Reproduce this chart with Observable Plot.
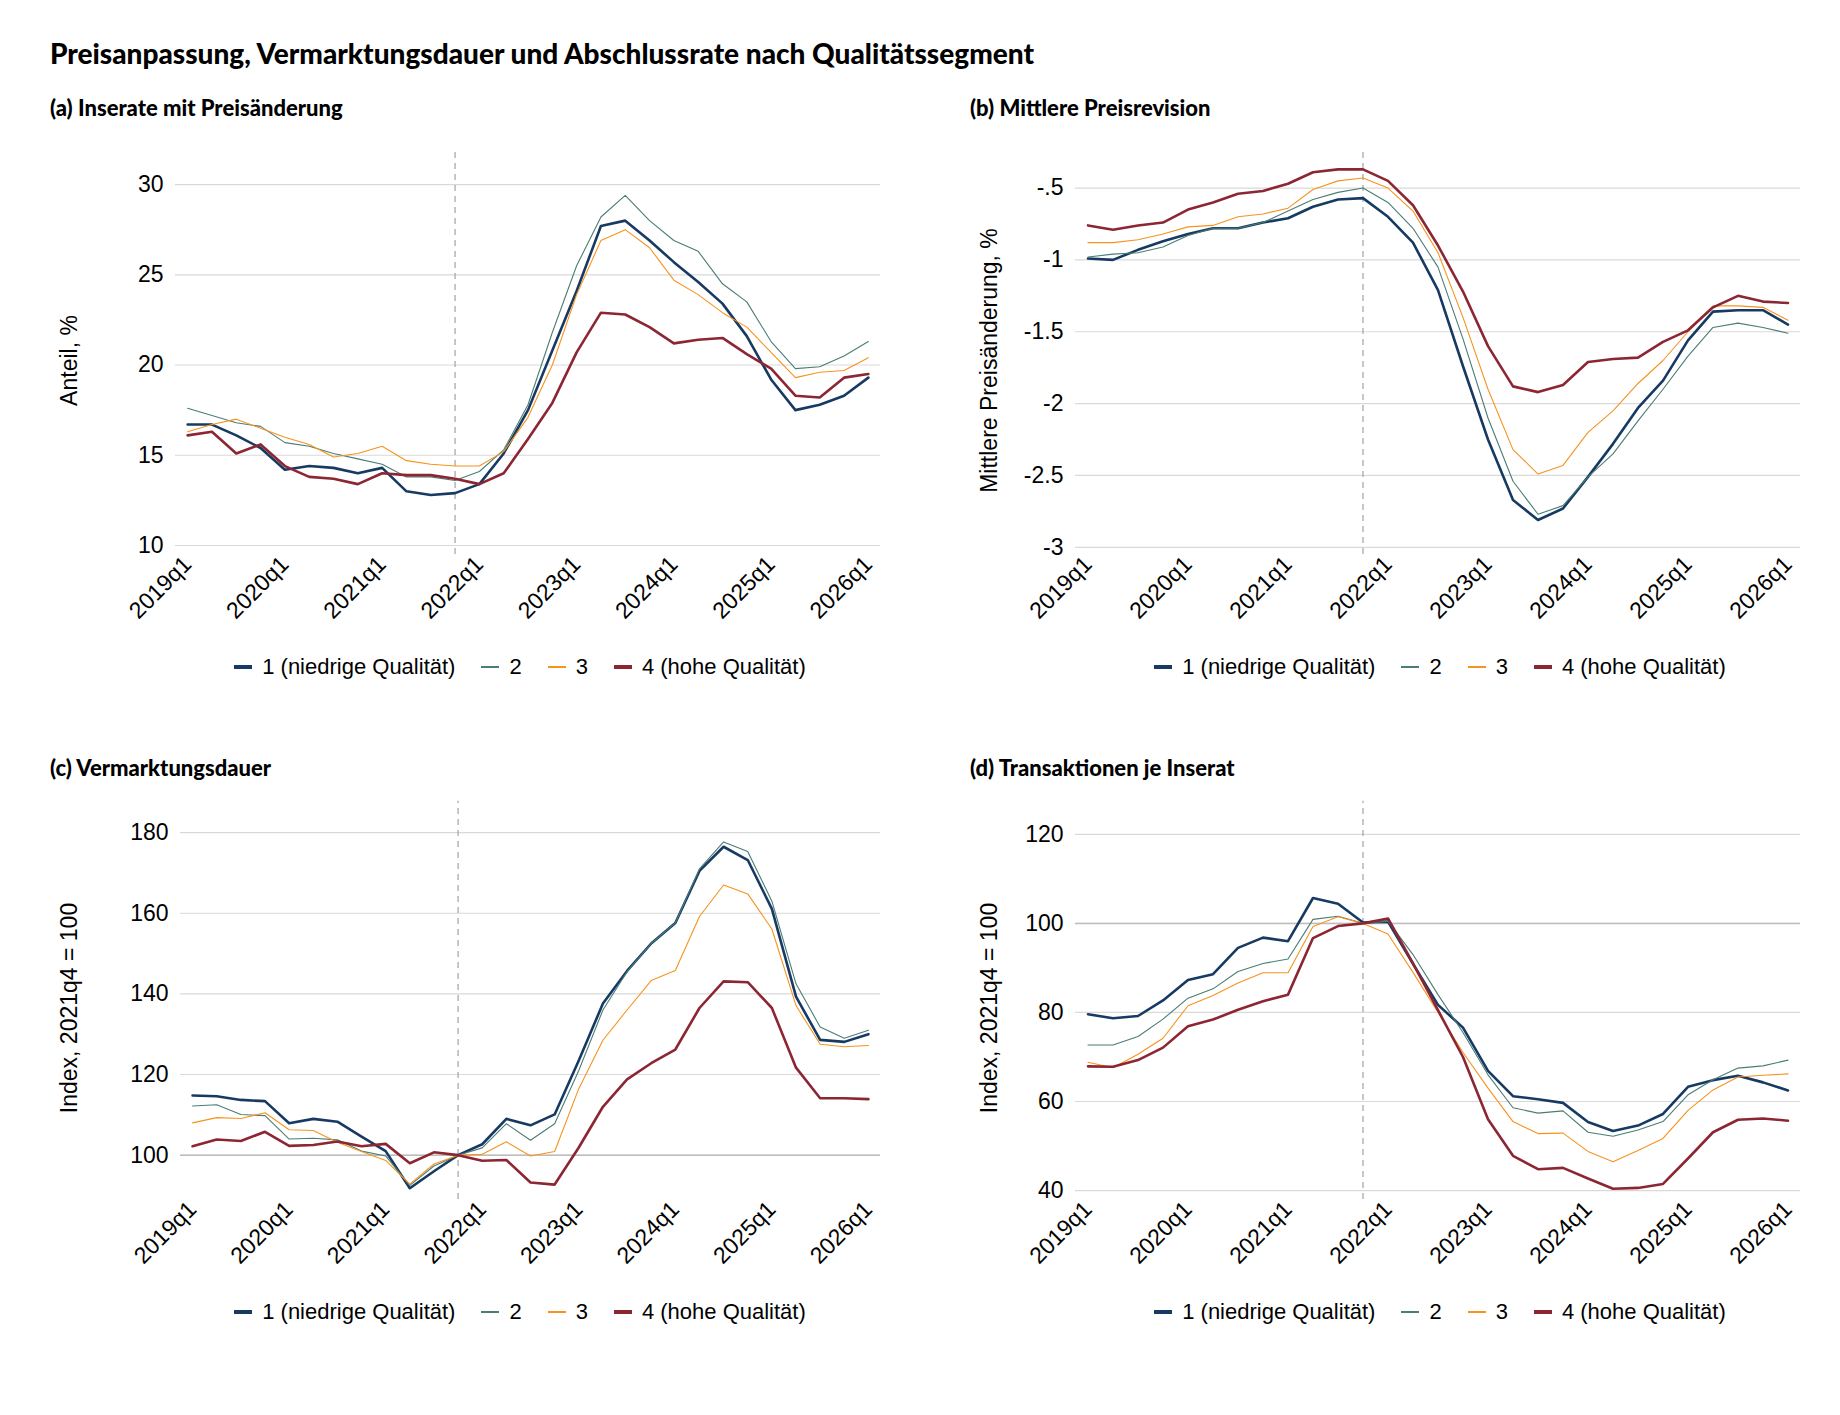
<!DOCTYPE html>
<html><head><meta charset="utf-8">
<script src="https://cdn.jsdelivr.net/npm/d3@7"></script>
<script src="https://cdn.jsdelivr.net/npm/@observablehq/plot@0.6"></script>
<style>
body{margin:0;background:#fff;font-family:"Liberation Sans",Arial,sans-serif;}
#wrap{width:1840px;}
h1{font-family:"Lato";font-weight:900;font-size:28px;margin:0;padding:36px 0 0 50px;height:50px}
.grid{display:grid;grid-template-columns:920px 920px;}
.cell{position:relative;height:660px}
.ptitle{font-family:"Lato";font-weight:900;font-size:22px;padding-left:50px;height:40px;padding-top:8px}
.legend{display:flex;justify-content:center;gap:26px;font-size:22px;margin-top:0px;padding-left:120px}
.legend span{display:flex;align-items:center;gap:10px}
.sw{display:inline-block;width:18px;}
</style></head><body>
<div id="wrap">
<h1>Preisanpassung, Vermarktungsdauer und Abschlussrate nach Qualitätssegment</h1>
<div class="grid" id="grid"></div>
</div>
<script>
const quarterLabels = ["2019q1","2020q1","2021q1","2022q1","2023q1","2024q1","2025q1","2026q1"];
const quarters = [];
for (let y=2019;y<=2026;y++) for (let q=1;q<=4;q++) quarters.push(y+"q"+q);
const periods = quarters.slice(0,29);
const seriesNames = ["1 (niedrige Qualität)","2","3","4 (hohe Qualität)"];

const a1=[16.7,16.7,16.1,15.4,14.2,14.4,14.3,14.0,14.3,13.0,12.8,12.9,13.4,15.1,17.5,20.8,24.1,27.7,28.0,26.9,25.7,24.6,23.4,21.6,19.2,17.5,17.8,18.3,19.3];
const a2=[17.6,17.2,16.8,16.6,15.7,15.5,15.1,14.8,14.5,13.8,13.8,13.6,14.1,15.3,17.8,21.8,25.5,28.2,29.4,28.0,26.9,26.3,24.5,23.5,21.3,19.8,19.9,20.5,21.3];
const a3=[16.3,16.7,17.0,16.5,16.0,15.6,14.9,15.1,15.5,14.7,14.5,14.4,14.4,15.2,17.1,20.0,23.9,26.9,27.5,26.5,24.7,23.9,22.9,22.1,20.7,19.3,19.6,19.7,20.4];
const a4=[16.1,16.3,15.1,15.6,14.4,13.8,13.7,13.4,14.0,13.9,13.9,13.7,13.4,14.0,15.9,17.9,20.7,22.9,22.8,22.1,21.2,21.4,21.5,20.6,19.8,18.3,18.2,19.3,19.5];

const b1=[-0.99,-1.0,-0.93,-0.87,-0.82,-0.78,-0.78,-0.74,-0.71,-0.63,-0.58,-0.57,-0.70,-0.88,-1.21,-1.74,-2.25,-2.67,-2.81,-2.73,-2.51,-2.28,-2.03,-1.84,-1.56,-1.36,-1.35,-1.35,-1.45];
const b2=[-0.98,-0.96,-0.95,-0.91,-0.83,-0.78,-0.78,-0.74,-0.66,-0.58,-0.53,-0.50,-0.60,-0.78,-1.05,-1.55,-2.10,-2.54,-2.77,-2.71,-2.51,-2.35,-2.12,-1.90,-1.67,-1.47,-1.44,-1.47,-1.51];
const b3=[-0.88,-0.88,-0.86,-0.82,-0.77,-0.76,-0.70,-0.68,-0.64,-0.51,-0.45,-0.43,-0.50,-0.66,-0.95,-1.40,-1.90,-2.32,-2.49,-2.43,-2.20,-2.05,-1.86,-1.70,-1.50,-1.32,-1.32,-1.33,-1.42];
const b4=[-0.76,-0.79,-0.76,-0.74,-0.65,-0.60,-0.54,-0.52,-0.47,-0.39,-0.37,-0.37,-0.45,-0.62,-0.90,-1.22,-1.60,-1.88,-1.92,-1.87,-1.71,-1.69,-1.68,-1.57,-1.49,-1.33,-1.25,-1.29,-1.30];

const c1=[114.8,114.6,113.7,113.4,107.9,109.0,108.3,104.6,101.0,91.8,96.0,100,102.7,109.0,107.4,110.1,123.5,137.6,145.7,152.5,157.6,170.5,176.5,173.2,161.1,139.3,128.6,128.1,130.0];
const c2=[112.2,112.5,110.1,109.8,104.0,104.2,103.8,101.0,99.8,92.5,97.3,100,101.8,107.8,103.7,107.8,121,136,145.5,152.5,157.6,171,177.7,175.3,163,142.5,131.8,129,131];
const c3=[108,109.3,109.1,110.5,106.3,106.1,103.2,100.9,98.7,92.8,97.8,100,100.2,103.3,99.8,100.9,116.5,128.5,136.0,143.3,145.8,159.2,167.0,164.8,156.1,137.1,127.5,126.9,127.2];
const c4=[102.2,103.9,103.5,105.8,102.3,102.5,103.4,102.2,102.8,98.0,100.7,100,98.6,98.8,93.2,92.7,101.9,112.0,118.8,122.8,126.2,136.5,143.1,142.9,136.5,121.7,114.1,114.1,113.9];

const d1=[79.6,78.7,79.2,82.7,87.3,88.6,94.5,96.8,96.0,105.7,104.4,100.2,100.4,90.9,81.7,76.6,66.9,61.2,60.5,59.7,55.4,53.4,54.6,57.2,63.3,64.8,65.8,64.3,62.5];
const d2=[72.7,72.7,74.6,78.5,83.2,85.3,89.2,91,92,100.9,101.6,100,100.5,93,84,75.5,66,58.6,57.4,57.9,53.1,52.2,53.6,55.5,61.5,64.9,67.5,68,69.3];
const d3=[68.8,67.6,70.6,74.2,81.5,83.8,86.6,88.9,88.9,99.3,101.5,100,97.6,89,80,71,63,55.5,52.8,52.9,48.8,46.5,49.0,51.7,58,62.6,65.5,65.9,66.2];
const d4=[67.9,67.8,69.3,72.1,76.9,78.4,80.6,82.5,84.0,96.7,99.4,100,101.1,91,80.5,70,56,47.8,44.8,45.1,42.7,40.4,40.6,41.5,47.2,53.1,55.9,56.2,55.7];

const colors=["#173a63","#4a7d76","#f7931e","#8c2633"];
const widths=[2.6,1.1,1.1,2.6];

const panels=[
 {title:"(a) Inserate mit Preisänderung",ylabel:"Anteil, %",s:[a1,a2,a3,a4],dom:[9.5,31],ticks:[10,15,20,25,30],fmt:d=>String(d),ml:175,base:null},
 {title:"(b) Mittlere Preisrevision",ylabel:"Mittlere Preisänderung, %",s:[b1,b2,b3,b4],dom:[-3.05,-0.35],ticks:[-3,-2.5,-2,-1.5,-1,-0.5],fmt:d=>String(d).replace("0.","."),ml:155,base:null},
 {title:"(c) Vermarktungsdauer",ylabel:"Index, 2021q4 = 100",s:[c1,c2,c3,c4],dom:[89,184],ticks:[100,120,140,160,180],fmt:d=>String(d),ml:180,base:100},
 {title:"(d) Transaktionen je Inserat",ylabel:"Index, 2021q4 = 100",s:[d1,d2,d3,d4],dom:[38,124],ticks:[40,60,80,100,120],fmt:d=>String(d),ml:155,base:100}
];
const tickIdx=quarterLabels.map(l=>periods.indexOf(l));
const grid=document.getElementById("grid");
panels.forEach((p,pi)=>{
  const cell=document.createElement("div");cell.className="cell";
  const t=document.createElement("div");t.className="ptitle";t.textContent=p.title;cell.appendChild(t);
  const rows=[];
  p.s.forEach((arr,si)=>arr.forEach((v,i)=>rows.push({i,v,s:si})));
  const ttop = pi<2 ? 32 : 22;
  const chart=Plot.plot({
    width:900,height: pi<2?520:505,marginLeft:p.ml,marginRight:20,marginTop:ttop,marginBottom:100,
    style:{fontFamily:"Liberation Sans, Arial, sans-serif",fontSize:"23px",color:"#000",background:"#fff"},
    x:{domain:[-0.5,28.5],ticks:tickIdx,tickFormat:i=>periods[i],tickRotate:-45,tickSize:0,label:null,tickPadding:6},
    y:{domain:p.dom,ticks:p.ticks,tickFormat:p.fmt,tickSize:0,label:p.ylabel,labelAnchor:"center",labelArrow:"none",labelOffset:p.ml-60,tickPadding:12},
    marks:[
      Plot.gridY(p.ticks,{stroke:"#d9d9d9",strokeOpacity:1,strokeWidth:1.2}),
      p.base!=null?Plot.ruleY([p.base],{stroke:"#bdbdbd",strokeWidth:1.5}):null,
      Plot.ruleX([periods.indexOf("2021q4")],{stroke:"#aaa",strokeDasharray:"6,5",strokeWidth:1.3,y1:p.dom[0],y2:p.dom[1]+(p.dom[1]-p.dom[0])*0.04,clip:false}),
      ...[0,1,2,3].map(si=>Plot.line(rows.filter(r=>r.s===si),{x:"i",y:"v",stroke:colors[si],strokeWidth:widths[si]}))
    ]
  });
  cell.appendChild(chart);
  const lg=document.createElement("div");lg.className="legend";
  seriesNames.forEach((n,si)=>{const s=document.createElement("span");s.innerHTML=`<i class="sw" style="height:${widths[si]+0.5}px;background:${colors[si]}"></i>${n}`;lg.appendChild(s);});
  cell.appendChild(lg);
  grid.appendChild(cell);
});
</script></body></html>
